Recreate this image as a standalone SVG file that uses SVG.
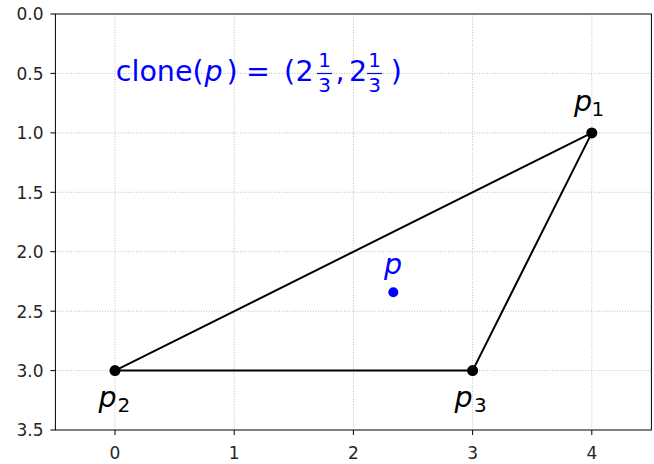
<svg xmlns="http://www.w3.org/2000/svg" width="654" height="464" viewBox="0 0 654 464">
<style>
.grid{stroke:#b0b0b0;stroke-width:0.8;stroke-dasharray:1 1.6;fill:none}
.spine{stroke:#000;stroke-width:1;fill:none}
.tick{stroke:#000;stroke-width:1}
.tl{font-family:"DejaVu Sans",sans-serif;font-size:17px;fill:#262626}
.tlx{text-anchor:middle}
.tly{text-anchor:end}
.edge{stroke:#000;stroke-width:2;fill:none;stroke-linecap:round}
.v{fill:#000}
.lab{font-family:"DejaVu Sans",sans-serif;font-size:28.5px;fill:#000}
.it{font-style:italic}
.sub{font-family:"DejaVu Sans",sans-serif;font-size:20px;fill:#000}
.blue{fill:#0000ff}
</style>
<rect x="0" y="0" width="654" height="464" fill="#fff"/>
<g id="grid">
<line class="grid" x1="115" y1="14" x2="115" y2="430"/>
<line class="grid" x1="234.2" y1="14" x2="234.2" y2="430"/>
<line class="grid" x1="353.4" y1="14" x2="353.4" y2="430"/>
<line class="grid" x1="472.6" y1="14" x2="472.6" y2="430"/>
<line class="grid" x1="591.8" y1="14" x2="591.8" y2="430"/>
<line class="grid" x1="55.4" y1="73.4" x2="651.4" y2="73.4"/>
<line class="grid" x1="55.4" y1="132.9" x2="651.4" y2="132.9"/>
<line class="grid" x1="55.4" y1="192.3" x2="651.4" y2="192.3"/>
<line class="grid" x1="55.4" y1="251.7" x2="651.4" y2="251.7"/>
<line class="grid" x1="55.4" y1="311.2" x2="651.4" y2="311.2"/>
<line class="grid" x1="55.4" y1="370.6" x2="651.4" y2="370.6"/>
</g>
<g id="axes">
<rect class="spine" x="55.4" y="14" width="596" height="416"/>
<line class="tick" x1="115" y1="430" x2="115" y2="435"/>
<line class="tick" x1="234.2" y1="430" x2="234.2" y2="435"/>
<line class="tick" x1="353.4" y1="430" x2="353.4" y2="435"/>
<line class="tick" x1="472.6" y1="430" x2="472.6" y2="435"/>
<line class="tick" x1="591.8" y1="430" x2="591.8" y2="435"/>
<line class="tick" x1="50.4" y1="14" x2="55.4" y2="14"/>
<line class="tick" x1="50.4" y1="73.4" x2="55.4" y2="73.4"/>
<line class="tick" x1="50.4" y1="132.9" x2="55.4" y2="132.9"/>
<line class="tick" x1="50.4" y1="192.3" x2="55.4" y2="192.3"/>
<line class="tick" x1="50.4" y1="251.7" x2="55.4" y2="251.7"/>
<line class="tick" x1="50.4" y1="311.2" x2="55.4" y2="311.2"/>
<line class="tick" x1="50.4" y1="370.6" x2="55.4" y2="370.6"/>
<line class="tick" x1="50.4" y1="430" x2="55.4" y2="430"/>
<text class="tl tlx" x="115" y="459">0</text>
<text class="tl tlx" x="234.2" y="459">1</text>
<text class="tl tlx" x="353.4" y="459">2</text>
<text class="tl tlx" x="472.6" y="459">3</text>
<text class="tl tlx" x="591.8" y="459">4</text>
<text class="tl tly" x="43.5" y="20.3">0.0</text>
<text class="tl tly" x="43.5" y="79.7">0.5</text>
<text class="tl tly" x="43.5" y="139.2">1.0</text>
<text class="tl tly" x="43.5" y="198.6">1.5</text>
<text class="tl tly" x="43.5" y="258">2.0</text>
<text class="tl tly" x="43.5" y="317.5">2.5</text>
<text class="tl tly" x="43.5" y="376.9">3.0</text>
<text class="tl tly" x="43.5" y="436.3">3.5</text>
</g>
<g id="connectors">
<line class="edge" x1="591.8" y1="132.9" x2="115" y2="370.6"/>
<line class="edge" x1="115" y1="370.6" x2="472.6" y2="370.6"/>
<line class="edge" x1="472.6" y1="370.6" x2="591.8" y2="132.9"/>
</g>
<g id="p1">
<circle class="v" cx="591.8" cy="132.9" r="5.5"/>
<text class="lab it" x="574" y="111">p</text>
<text class="sub" x="591.5" y="115.5">1</text>
</g>
<g id="p2">
<circle class="v" cx="115" cy="370.6" r="5.5"/>
<text class="lab it" x="98.5" y="407">p</text>
<text class="sub" x="117.5" y="411.5">2</text>
</g>
<g id="p3">
<circle class="v" cx="472.6" cy="370.6" r="5.5"/>
<text class="lab it" x="454.5" y="407">p</text>
<text class="sub" x="474" y="411.5">3</text>
</g>
<g id="p">
<circle class="blue" cx="393.3" cy="292.2" r="5"/>
<text class="lab it blue" x="384" y="274">p</text>
</g>
<g id="title">
<text class="lab blue" x="115.8" y="81">clone(</text>
<text class="lab it blue" x="204.5" y="81">p</text>
<text class="lab blue" x="226.5" y="81">)</text>
<text class="lab blue" x="246" y="81">=</text>
<text class="lab blue" x="284" y="81">(</text>
<text class="lab blue" x="295.5" y="81">2</text>
<text class="sub blue" x="324.5" y="67" text-anchor="middle">1</text>
<line x1="317" y1="73.5" x2="332" y2="73.5" stroke="#0000ff" stroke-width="1.2"/>
<text class="sub blue" x="324.5" y="92" text-anchor="middle">3</text>
<text class="lab blue" x="335.5" y="81">,</text>
<text class="lab blue" x="349" y="81">2</text>
<text class="sub blue" x="374.5" y="67" text-anchor="middle">1</text>
<line x1="367" y1="73.5" x2="382" y2="73.5" stroke="#0000ff" stroke-width="1.2"/>
<text class="sub blue" x="374.5" y="92" text-anchor="middle">3</text>
<text class="lab blue" x="390.7" y="81">)</text>
</g>
</svg>
